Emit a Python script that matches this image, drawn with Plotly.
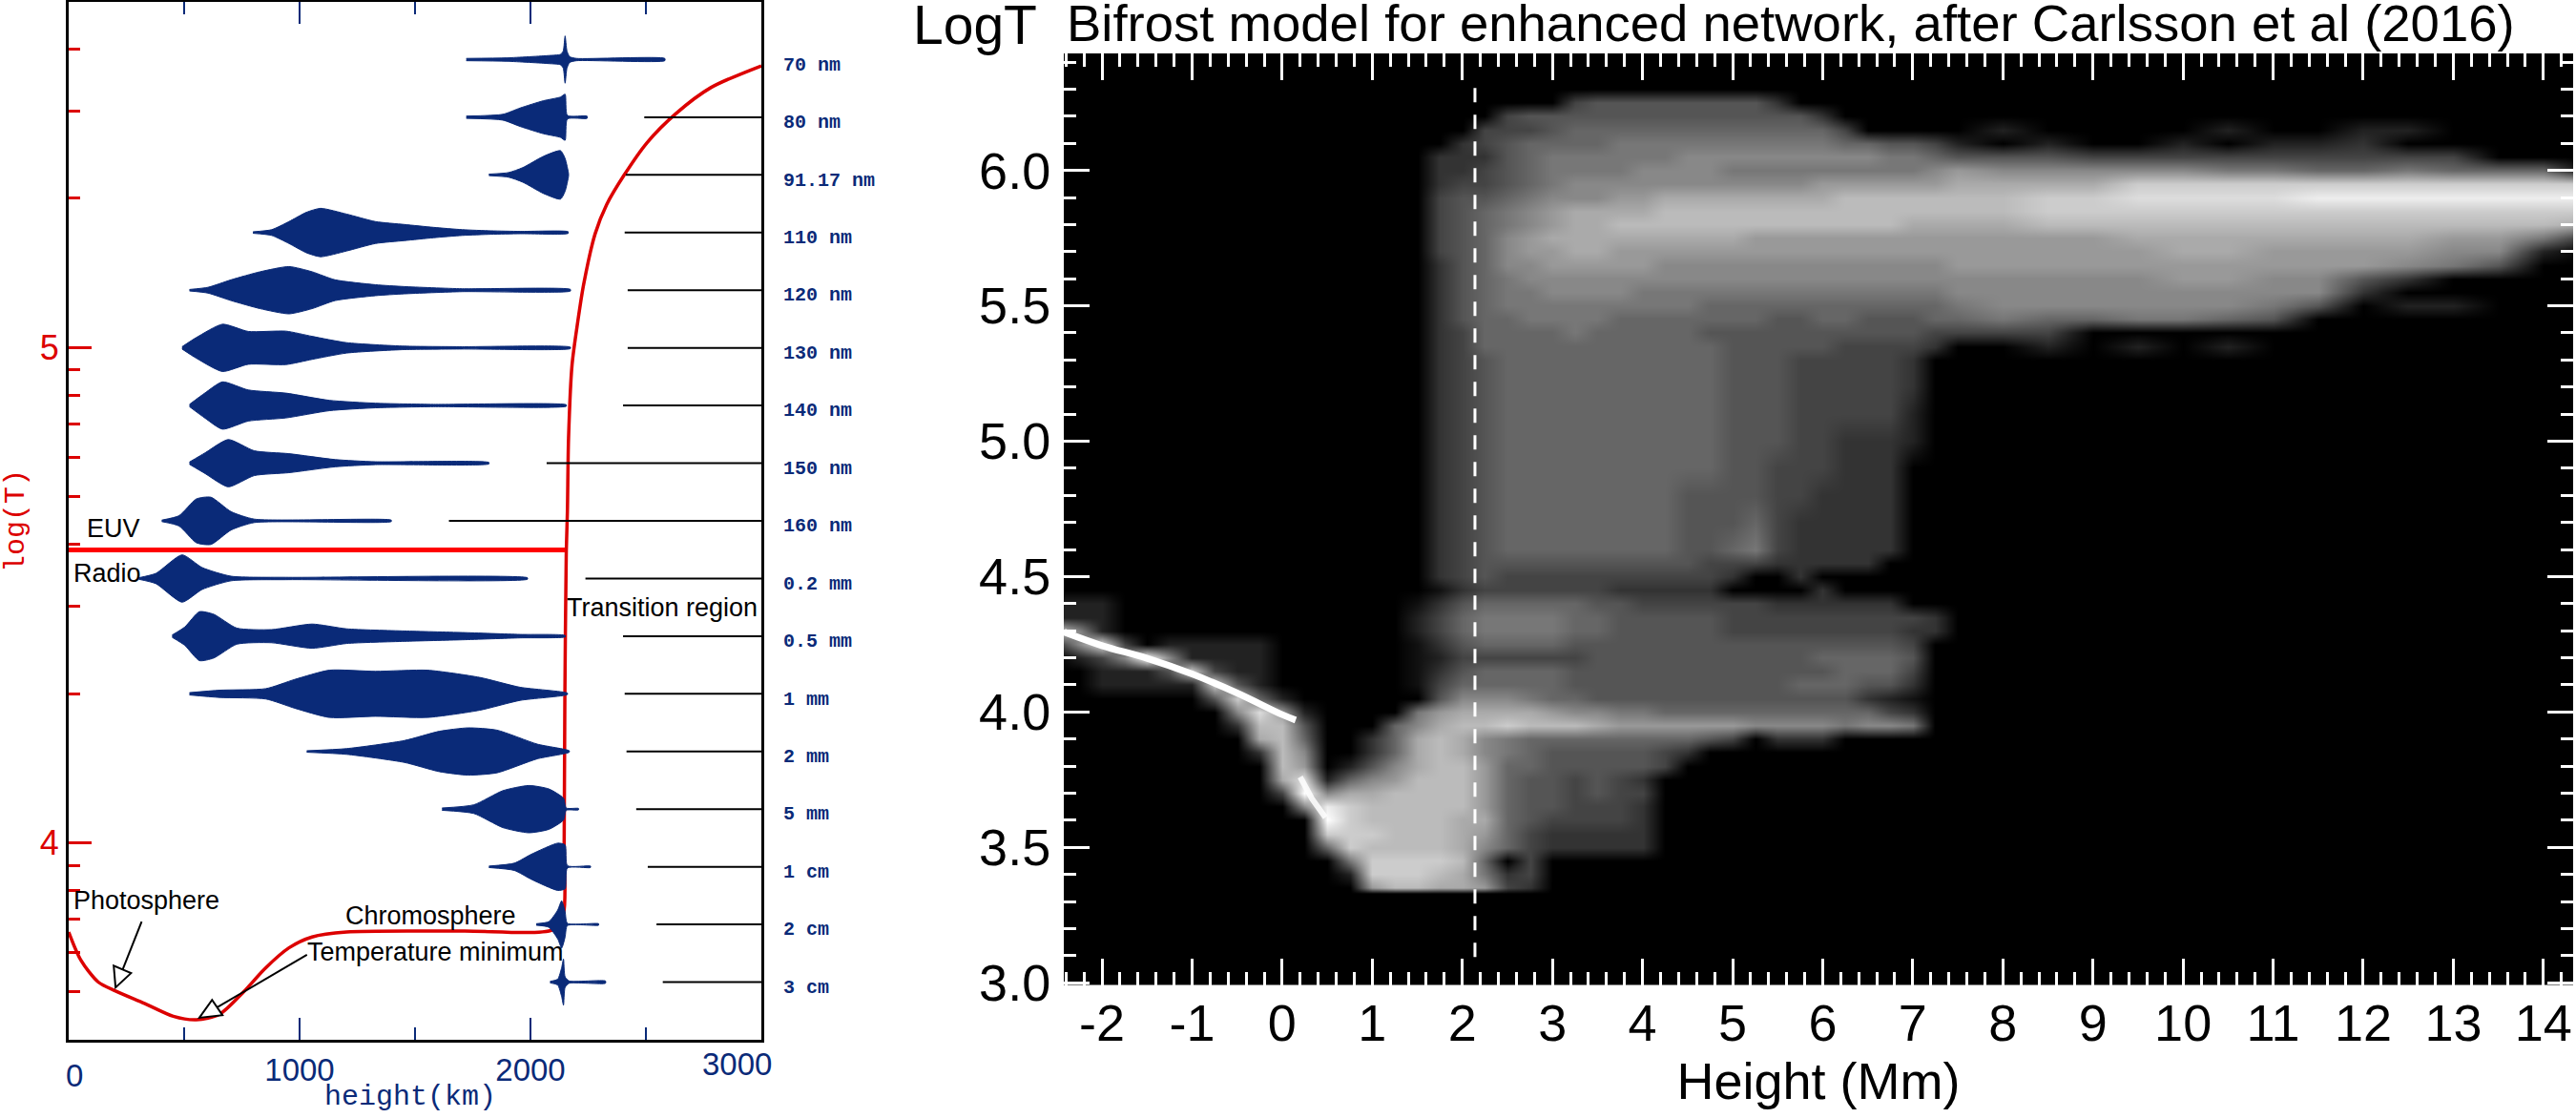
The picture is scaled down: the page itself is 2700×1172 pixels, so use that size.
import numpy as np
import plotly.graph_objects as go

W, H = 2700, 1172
BLUE = '#0a2a78'
RED = '#dc0000'
NARROW = 'Liberation Sans, sans-serif'
MONO = 'Liberation Mono, monospace'
ARIAL = 'Liberation Sans, sans-serif'

# left panel: height of formation per channel
channels = ['3 cm', '2 cm', '1 cm', '5 mm', '2 mm', '1 mm', '0.5 mm', '0.2 mm', '160 nm',
            '150 nm', '140 nm', '130 nm', '120 nm', '110 nm', '91.17 nm', '80 nm', '70 nm']

h_3cm = [2085, 2118, 2135, 2143, 2150, 2168, 2325]
w_3cm = [.013, .05, .25, .40, .09, .02, .02]
h_2cm = [2025, 2080, 2118, 2135, 2150, 2160, 2295]
w_2cm = [.013, .05, .25, .41, .22, .02, .013]
h_1cm = [1820, 1930, 2005, 2118, 2150, 2160, 2260]
w_1cm = [.013, .063, .22, .41, .38, .02, .013]
h_5mm = [1617, 1755, 1880, 1993, 2080, 2143, 2155, 2208]
w_5mm = [.02, .076, .32, .41, .35, .19, .02, .013]
h_2mm = [1031, 1204, 1454, 1605, 1730, 1855, 2030, 2168]
w_2mm = [.013, .05, .19, .35, .41, .37, .127, .013]
h_1mm = [523, 653, 854, 979, 1129, 1329, 1554, 1780, 1955, 2160]
w_1mm = [.02, .063, .09, .25, .41, .39, .41, .285, .114, .013]
h_05mm = [448, 503, 566, 628, 728, 878, 1054, 1204, 1454, 1705, 1955, 2150]
w_05mm = [.02, .16, .424, .38, .14, .114, .21, .127, .09, .063, .03, .013]
h_02mm = [303, 378, 491, 578, 703, 954, 1987]
w_02mm = [.013, .09, .41, .19, .04, .02, .013]
h_160 = [403, 478, 553, 616, 703, 804, 1397]
w_160 = [.013, .09, .38, .41, .16, .03, .013]
h_150 = [523, 591, 691, 804, 954, 1154, 1329, 1820]
w_150 = [.02, .18, .41, .215, .165, .063, .025, .013]
h_140 = [523, 591, 666, 778, 941, 1129, 1329, 1580, 2155]
w_140 = [.02, .22, .41, .27, .215, .09, .04, .02, .013]
h_130 = [491, 553, 666, 778, 941, 1054, 1204, 1454, 1705, 2173]
w_130 = [.02, .18, .41, .285, .29, .2, .09, .03, .02, .013]
h_120 = [523, 603, 703, 829, 954, 1054, 1154, 1329, 1454, 1705, 2173]
w_120 = [.013, .05, .18, .32, .41, .32, .18, .095, .063, .025, .015]
h_110 = [798, 879, 954, 1029, 1091, 1204, 1329, 1454, 1580, 1705, 1830, 1955, 2163]
w_110 = [.013, .05, .19, .35, .42, .32, .19, .14, .09, .05, .03, .02, .015]
h_91 = [1820, 1905, 1967, 2055, 2130, 2150, 2165]
w_91 = [.013, .04, .127, .32, .42, .285, .02]
h_80 = [1722, 1880, 1955, 2055, 2130, 2150, 2160, 2245]
w_80 = [.02, .05, .16, .285, .35, .40, .03, .02]
h_70 = [1722, 1900, 2080, 2130, 2142, 2150, 2158, 2170, 2200, 2582]
w_70 = [.02, .03, .07, .09, .15, .41, .15, .05, .02, .02]

heights = [h_3cm, h_2cm, h_1cm, h_5mm, h_2mm, h_1mm, h_05mm, h_02mm, h_160,
           h_150, h_140, h_130, h_120, h_110, h_91, h_80, h_70]
widths = [w_3cm, w_2cm, w_1cm, w_5mm, w_2mm, w_1mm, w_05mm, w_02mm, w_160,
          w_150, w_140, w_130, w_120, w_110, w_91, w_80, w_70]

# where the black reference line starts, 70 nm has none
line_start = [2573, 2546, 2508, 2458, 2416, 2408, 2401, 2238, 1647,
              2070, 2401, 2421, 2421, 2408, 2413, 2493, None]

# temperature model
model_h = [0, 53, 128, 203, 328, 453, 553, 653, 753, 854, 954, 1054, 1204, 1705, 2105, 2143,
           2146, 2149, 2155, 2160, 2165, 2180, 2205, 2230, 2280, 2330, 2405, 2505, 2631, 2781, 3000]
model_logt = [3.820, 3.763, 3.719, 3.701, 3.676, 3.650, 3.643, 3.654, 3.697, 3.748, 3.788, 3.810,
              3.820, 3.822, 3.826, 3.857, 4.003, 4.293, 4.584, 4.669, 4.817, 4.964, 5.052, 5.126,
              5.229, 5.288, 5.347, 5.413, 5.472, 5.524, 5.568]
euv_radio_h = [0, 2150]
euv_radio_logt = [4.591, 4.591]

minor_temps = [5e3, 6e3, 7e3, 8e3, 9e3, 2e4, 3e4, 4e4, 5e4, 6e4, 7e4, 8e4, 9e4, 2e5, 3e5, 4e5]

# right panel: brightness levels 0-f, one string per logT row, groups of columns
column_x = [-2.5, -2.25, -2, -1.75, -1.5, -1.25, -1, -.75, -.5, -.25, 0, .25, .5, .75, 1, 1.25,
            1.5, 1.75, 2, 2.25, 2.5, 2.75, 3, 3.25, 3.5, 3.75, 4, 4.25, 4.5, 4.75, 5, 5.25,
            5.5, 5.75, 6, 6.25, 6.5, 6.75, 7, 7.25, 7.5, 8, 8.5, 9, 9.5, 10, 10.5, 11,
            11.5, 12, 12.5, 13, 13.5, 14, 14.5]
row_logt = [6.50, 6.35, 6.30, 6.25, 6.20, 6.15, 6.10, 6.05, 6.00, 5.95, 5.90, 5.85, 5.80, 5.75, 5.70,
            5.65, 5.60, 5.55, 5.50, 5.45, 5.40, 5.35, 5.30, 5.20, 5.10, 5.00, 4.90, 4.80, 4.70,
            4.60, 4.55, 4.50, 4.45, 4.40, 4.35, 4.30, 4.25, 4.20, 4.15, 4.10, 4.05, 4.00, 3.95,
            3.90, 3.85, 3.80, 3.75, 3.70, 3.65, 3.60, 3.55, 3.50, 3.45, 3.40, 3.35, 3.33, 2.90]
image_rows = [
    '0000 0000 0000 0000 0000 0000 0000 0000 0000 0000 0000 0000 0000 000',
    '0000 0000 0000 0000 0000 0000 0000 0000 0000 0000 0000 0000 0000 000',
    '0000 0000 0000 0000 0000 0000 0000 0000 0000 0000 0000 0000 0000 000',
    '0000 0000 0000 0000 0000 0004 5555 5555 3000 0000 0000 0000 0000 000',
    '0000 0000 0000 0000 0000 4555 5555 5555 5530 0000 0000 0000 0000 000',
    '0000 0000 0000 0000 0004 4456 6666 6666 6664 0000 0200 0020 0220 000',
    '0000 0000 0000 0000 0034 5666 6777 7777 7776 6554 2020 0202 2300 000',
    '0000 0000 0000 0000 0333 5677 7777 8888 8888 8776 5554 4444 4444 000',
    '0000 0000 0000 0000 0334 5677 7788 8877 7777 7778 9888 8877 6676 660',
    '0000 0000 0000 0000 0344 5678 8888 8888 8899 9999 aaaa cccc cccc ccc',
    '0000 0000 0000 0000 0455 6788 899a aaaa aaab bbbb bbcc dddd eeee eee',
    '0000 0000 0000 0000 0456 789a aaab bbbb bbbb bbbb bbcc cccc cccc ccc',
    '0000 0000 0000 0000 0456 789a abbb bbbb bbbb bbaa aabb bbbb bbbb bba',
    '0000 0000 0000 0000 0456 89aa aaaa aaa9 9999 9999 9999 aaaa aaa9 973',
    '0000 0000 0000 0000 0456 899a a999 9999 9999 9999 9999 9aa9 9998 820',
    '0000 0000 0000 0000 0356 8899 9998 8888 8888 8888 9999 9999 9987 500',
    '0000 0000 0000 0000 0356 7888 8888 8888 8888 8888 8888 8998 8530 000',
    '0000 0000 0000 0000 0356 7788 8877 7777 7777 7777 8888 8888 8300 000',
    '0000 0000 0000 0000 0356 7777 7777 7666 6666 6666 7888 8887 5022 000',
    '0000 0000 0000 0000 0356 6777 7666 6666 5566 5556 6766 7765 0000 000',
    '0000 0000 0000 0000 0346 6667 6666 6555 5555 5554 4440 0000 0000 000',
    '0000 0000 0000 0000 0346 6666 6666 6655 5554 4443 0020 2020 0000 000',
    '0000 0000 0000 0000 0345 6666 6666 6655 5444 4430 0000 0000 0000 000',
    '0000 0000 0000 0000 0345 6666 6666 6655 5444 4430 0000 0000 0000 000',
    '0000 0000 0000 0000 0345 6666 6666 6655 5444 4420 0000 0000 0000 000',
    '0000 0000 0000 0000 0345 6666 6666 6655 5443 3320 0000 0000 0000 000',
    '0000 0000 0000 0000 0345 6666 6666 6655 4443 3300 0000 0000 0000 000',
    '0000 0000 0000 0000 0345 6666 6666 5555 4433 3300 0000 0000 0000 000',
    '0000 0000 0000 0000 0345 6666 6666 5556 4333 3300 0000 0000 0000 000',
    '0000 0000 0000 0000 0345 6666 6666 5567 4333 3300 0000 0000 0000 000',
    '0000 0000 0000 0000 0345 5555 5555 5444 3333 3000 0000 0000 0000 000',
    '0000 0000 0000 0000 0345 4444 4444 4430 0300 0000 0000 0000 0000 000',
    '0000 0000 0000 0000 0134 4444 4333 3300 0030 0000 0000 0000 0000 000',
    '2220 0000 0000 0000 1356 6666 5544 4444 3333 3300 0000 0000 0000 000',
    '2220 0000 0000 0000 2467 7776 6555 5544 4444 4443 0000 0000 0000 000',
    'c820 0000 0000 0000 2467 7776 6555 5544 4444 4433 0000 0000 0000 000',
    '38d4 0222 2200 0000 1356 6665 5555 5555 5555 5540 0000 0000 0000 000',
    '0248 f822 2200 0000 1244 4444 5555 5555 5566 6650 0000 0000 0000 000',
    '0022 25c4 2200 0000 1356 6665 5555 5555 5556 6640 0000 0000 0000 000',
    '0022 222c 5200 0000 1466 6665 5555 5555 5666 5530 0000 0000 0000 000',
    '0000 0005 c620 0000 0588 8766 5555 5555 5555 3210 0000 0000 0000 000',
    '0000 0000 8d92 0000 79aa aa98 8776 6666 6666 6430 0000 0000 0000 000',
    '0000 0000 3bb5 0006 8abb cbbb a999 9998 8887 8870 0000 0000 0000 000',
    '0000 0000 0ab6 0036 aba8 7666 6666 6540 3330 0000 0000 0000 0000 000',
    '0000 0000 03b8 0036 aba8 7655 5554 3000 0000 0000 0000 0000 0000 000',
    '0000 0000 00b9 0258 abb9 6655 5554 0000 0000 0000 0000 0000 0000 000',
    '0000 0000 00ad 2689 bbb9 6554 5430 0000 0000 0000 0000 0000 0000 000',
    '0000 0000 004f 8aab bbb9 6554 5440 0000 0000 0000 0000 0000 0000 000',
    '0000 0000 0008 ecbb bbb9 6554 4430 0000 0000 0000 0000 0000 0000 000',
    '0000 0000 0000 fcbb bbaa 6544 4430 0000 0000 0000 0000 0000 0000 000',
    '0000 0000 0000 cccb bba9 6433 3330 0000 0000 0000 0000 0000 0000 000',
    '0000 0000 0000 6cbb bba8 6433 3330 0000 0000 0000 0000 0000 0000 000',
    '0000 0000 0000 07cc ccb6 0400 0000 0000 0000 0000 0000 0000 0000 000',
    '0000 0000 0000 02cc cba7 3400 0000 0000 0000 0000 0000 0000 0000 000',
    '0000 0000 0000 009b baa9 4300 0000 0000 0000 0000 0000 0000 0000 000',
    '0000 0000 0000 0000 0000 0000 0000 0000 0000 0000 0000 0000 0000 000',
    '0000 0000 0000 0000 0000 0000 0000 0000 0000 0000 0000 0000 0000 000',
]
level_z = [[int(c, 16) for c in row.replace(' ', '')] for row in image_rows][::-1]

# the thin bright ridge of the distribution
ridge_x = [-2.42, -2, -1.5, -1, -.5, 0, .15]
ridge_logt = [4.295, 4.245, 4.198, 4.14, 4.07, 3.99, 3.97]
pinch_x = [.2, .33, .48]
pinch_logt = [3.76, 3.68, 3.61]
dashed_x = [2.14, 2.14]
dashed_logt = [3.095, 6.34]

height_ticks = [-2, -1, 0, 1, 2, 3, 4, 5, 6, 7, 8, 9, 10, 11, 12, 13, 14]
height_labels = ['-2', '-1', '0', '1', '2', '3', '4', '5', '6', '7', '8', '9', '10', '11', '12', '13', '14']


def px(x):
    return x / W


def py(y):
    return 1 - y / H


fig = go.Figure()

# red model first so the blue shapes sit over it
fig.add_trace(go.Scatter(x=model_h, y=model_logt, mode='lines', line=dict(color=RED, width=3.5, shape='spline', smoothing=.8),
                         xaxis='x', yaxis='y', showlegend=False))
fig.add_trace(go.Scatter(x=euv_radio_h, y=euv_radio_logt, mode='lines', line=dict(color='#ff0000', width=5),
                         xaxis='x', yaxis='y', showlegend=False))

for i in range(len(channels)):
    if line_start[i] is not None:
        fig.add_trace(go.Scatter(x=[line_start[i], 3000], y=[i, i], mode='lines', line=dict(color='black', width=2),
                                 xaxis='x', yaxis='y2', showlegend=False))
    hs = np.array(heights[i])
    ws = np.array(widths[i])
    fig.add_trace(go.Scatter(x=np.concatenate([hs, hs[::-1]]), y=np.concatenate([i + ws, (i - ws)[::-1]]),
                             mode='lines', fill='toself', fillcolor=BLUE,
                             line=dict(color=BLUE, width=1, shape='spline', smoothing=.6),
                             xaxis='x', yaxis='y2', showlegend=False))

fig.add_trace(go.Heatmap(x=column_x, y=row_logt[::-1], z=level_z, zmin=0, zmax=15, zsmooth='best', showscale=False,
                         colorscale=[[0, 'black'], [1, 'white']], xaxis='x3', yaxis='y3'))
fig.add_trace(go.Scatter(x=ridge_x, y=ridge_logt, mode='lines', line=dict(color='white', width=7, shape='spline'),
                         xaxis='x3', yaxis='y3', showlegend=False))
fig.add_trace(go.Scatter(x=pinch_x, y=pinch_logt, mode='lines', line=dict(color='white', width=6),
                         opacity=.85, xaxis='x3', yaxis='y3', showlegend=False))
fig.add_trace(go.Scatter(x=dashed_x, y=dashed_logt, mode='lines', line=dict(color='white', width=3, dash='15px,13px'),
                         xaxis='x3', yaxis='y3', showlegend=False))

annotations = []
for text, x, y in [('EUV', 119, 554), ('Radio', 112, 601), ('Transition region', 694, 637),
                   ('Photosphere', 153, 944), ('Chromosphere', 452, 960), ('Temperature minimum', 457, 998)]:
    annotations.append(dict(text=text, x=px(x), y=py(y), xref='paper', yref='paper', showarrow=False,
                            xanchor='center', yanchor='middle', font=dict(family=NARROW, size=27, color='black')))
for text, x, y in [('0', 78, 1127), ('3000', 773, 1115)]:
    annotations.append(dict(text=text, x=px(x), y=py(y), xref='paper', yref='paper', showarrow=False,
                            xanchor='center', yanchor='middle', font=dict(family=NARROW, size=33, color=BLUE)))
annotations.append(dict(text='height(km)', x=px(430), y=py(1150), xref='paper', yref='paper', showarrow=False,
                        xanchor='center', yanchor='middle', font=dict(family=MONO, size=30, color=BLUE)))
annotations.append(dict(text='LogT', x=px(955), y=py(26), xref='paper', yref='paper', showarrow=False,
                        xanchor='left', yanchor='middle', font=dict(family=ARIAL, size=57, color='black')))

# arrows from the labels
shapes = [
    dict(type='line', xref='x', yref='y', x0=316, y0=3.841, x1=203, y1=3.708, line=dict(color='black', width=2)),
    dict(type='path', xref='x', yref='y', path='M 203 3.708 L 195 3.752 L 270 3.737 Z', fillcolor='white', line=dict(color='black', width=2)),
    dict(type='line', xref='x', yref='y', x0=1032, y0=3.774, x1=566, y1=3.647, line=dict(color='black', width=2)),
    dict(type='path', xref='x', yref='y', path='M 566 3.647 L 621 3.683 L 666 3.652 Z', fillcolor='white', line=dict(color='black', width=2)),
]

fig.update_layout(
    template='none',
    width=W, height=H, margin=dict(l=0, r=0, t=0, b=0),
    paper_bgcolor='white', plot_bgcolor='white', showlegend=False,
    annotations=annotations, shapes=shapes,
    title=dict(text='Bifrost model for enhanced network, after Carlsson et al (2016)', x=px(1118), xanchor='left',
               y=py(24), yanchor='middle', font=dict(family=ARIAL, size=54.5, color='black')),
    xaxis=dict(domain=[px(72), px(798)], range=[0, 3000], anchor='y',
               tickvals=[1000, 2000], ticktext=['1000', '2000'], ticks='inside', ticklen=23, tickwidth=2, tickcolor=BLUE,
               minor=dict(tickmode='array', tickvals=[500, 1500, 2500], ticks='inside', ticklen=13, tickwidth=2, tickcolor=BLUE),
               tickfont=dict(family=NARROW, size=33, color=BLUE), showline=True, linecolor='black', linewidth=3, mirror='ticks',
               showgrid=False, zeroline=False),
    yaxis=dict(domain=[py(1090), py(2)], range=[3.6025, 5.697], anchor='x',
               tickvals=[4, 5], ticktext=['4', '5'], ticks='inside', ticklen=24, tickwidth=3, tickcolor=RED,
               minor=dict(tickmode='array', tickvals=list(np.log10(minor_temps)), ticks='inside', ticklen=12, tickwidth=3, tickcolor=RED),
               tickfont=dict(family=NARROW, size=36, color=RED), showline=True, linecolor='black', linewidth=3, mirror=True,
               showgrid=False, zeroline=False,
               title=dict(text='log(T)', font=dict(family=MONO, size=30, color=RED), standoff=8)),
    yaxis2=dict(domain=[py(1090), py(2)], range=[-1, 17], overlaying='y', side='right', anchor='x',
                tickvals=[i - .07 for i in range(len(channels))], ticktext=channels, ticks='', ticklabelstandoff=22,
                tickfont=dict(family=MONO, size=20, color=BLUE, weight='bold'), showgrid=False, zeroline=False, showline=False),
    xaxis3=dict(domain=[px(1115), px(2697)], range=[-2.424, 14.33], anchor='y3',
                tickvals=height_ticks, ticktext=height_labels, ticks='inside', ticklen=28, tickwidth=3, tickcolor='white',
                ticklabelstandoff=-10,
                minor=dict(dtick=.2, tick0=-2, ticks='inside', ticklen=14, tickwidth=3, tickcolor='white'),
                tickfont=dict(family=ARIAL, size=54, color='black'), showline=True, linecolor='white', linewidth=3, mirror='ticks',
                showgrid=False, zeroline=False,
                title=dict(text='Height (Mm)', font=dict(family=ARIAL, size=54, color='black'), standoff=14)),
    yaxis3=dict(domain=[py(1033), py(55.5)], range=[2.99, 6.434], anchor='x3',
                tick0=3, dtick=.5, tickformat='.1f', ticks='inside', ticklen=27, tickwidth=3, tickcolor='white',
                minor=dict(dtick=.1, tick0=3, ticks='inside', ticklen=13, tickwidth=3, tickcolor='white'),
                tickfont=dict(family=ARIAL, size=54, color='black'), showline=True, linecolor='white', linewidth=3, mirror='ticks',
                showgrid=False, zeroline=False),
)

fig.write_html("out.html", post_script="document.body.style.margin='0';", config=dict(displayModeBar=False))
